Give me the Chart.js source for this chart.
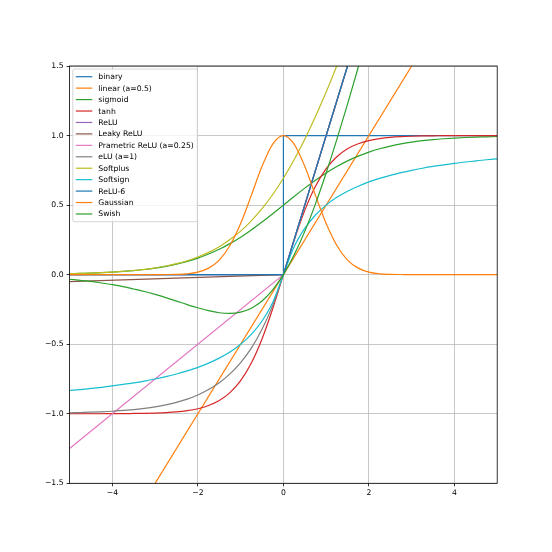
<!DOCTYPE html>
<html>
<head>
<meta charset="utf-8">
<script src="https://cdn.jsdelivr.net/npm/chart.js@4.4.0/dist/chart.umd.min.js"></script>
<style>
  html, body { margin: 0; padding: 0; background: #fff; }
  canvas { display: block; }
</style>
</head>
<body>
<canvas id="activations" width="552" height="552"></canvas>
<script>
// shared x grid for the smooth curves
const xs = [-5, -4.75, -4.5, -4.25, -4, -3.75, -3.5, -3.25, -3, -2.75, -2.5, -2.25, -2, -1.75, -1.5, -1.25, -1, -0.75, -0.5, -0.25,
	0, 0.25, 0.5, 0.75, 1, 1.25, 1.5, 1.75, 2, 2.25, 2.5, 2.75, 3, 3.25, 3.5, 3.75, 4, 4.25, 4.5, 4.75, 5];

const sigmoidY = [0.007, 0.009, 0.011, 0.014, 0.018, 0.023, 0.029, 0.037, 0.047, 0.060, 0.076, 0.095, 0.119, 0.148, 0.182, 0.223, 0.269, 0.321, 0.378, 0.438,
	0.5, 0.562, 0.622, 0.679, 0.731, 0.777, 0.818, 0.852, 0.881, 0.905, 0.924, 0.940, 0.953, 0.963, 0.971, 0.977, 0.982, 0.986, 0.989, 0.991, 0.993];
const tanhY = [-1.000, -1.000, -1.000, -1.000, -0.999, -0.999, -0.998, -0.997, -0.995, -0.992, -0.987, -0.978, -0.964, -0.941, -0.905, -0.848, -0.762, -0.635, -0.462, -0.245,
	0, 0.245, 0.462, 0.635, 0.762, 0.848, 0.905, 0.941, 0.964, 0.978, 0.987, 0.992, 0.995, 0.997, 0.998, 0.999, 0.999, 1.000, 1.000, 1.000, 1.000];
const eluY = [-0.993, -0.991, -0.989, -0.986, -0.982, -0.976, -0.970, -0.961, -0.950, -0.936, -0.918, -0.895, -0.865, -0.826, -0.777, -0.713, -0.632, -0.528, -0.393, -0.221,
	0, 0.25, 0.5, 0.75, 1, 1.25, 1.5, 1.75, 2, 2.25, 2.5, 2.75, 3, 3.25, 3.5, 3.75, 4, 4.25, 4.5, 4.75, 5];
const softplusY = [0.007, 0.009, 0.011, 0.014, 0.018, 0.023, 0.030, 0.038, 0.049, 0.062, 0.079, 0.100, 0.127, 0.160, 0.201, 0.252, 0.313, 0.387, 0.474, 0.576,
	0.693, 0.826, 0.974, 1.137, 1.313, 1.502, 1.701, 1.910, 2.127, 2.350, 2.579, 2.812, 3.049, 3.288, 3.530, 3.773, 4.018, 4.264, 4.511, 4.759, 5.007];
const softsignY = [-0.833, -0.826, -0.818, -0.810, -0.800, -0.789, -0.778, -0.765, -0.750, -0.733, -0.714, -0.692, -0.667, -0.636, -0.600, -0.556, -0.500, -0.429, -0.333, -0.200,
	0, 0.200, 0.333, 0.429, 0.500, 0.556, 0.600, 0.636, 0.667, 0.692, 0.714, 0.733, 0.750, 0.765, 0.778, 0.789, 0.800, 0.810, 0.818, 0.826, 0.833];
const gaussianY = [0, 0, 0, 0, 0, 0, 0, 0, 0, 0.001, 0.002, 0.006, 0.018, 0.047, 0.105, 0.210, 0.368, 0.570, 0.779, 0.939,
	1, 0.939, 0.779, 0.570, 0.368, 0.210, 0.105, 0.047, 0.018, 0.006, 0.002, 0.001, 0, 0, 0, 0, 0, 0, 0, 0, 0];
const swishY = [-0.033, -0.041, -0.049, -0.060, -0.072, -0.086, -0.103, -0.121, -0.142, -0.165, -0.190, -0.215, -0.238, -0.259, -0.274, -0.278, -0.269, -0.241, -0.189, -0.109,
	0, 0.141, 0.311, 0.509, 0.731, 0.972, 1.226, 1.491, 1.762, 2.035, 2.310, 2.585, 2.858, 3.129, 3.397, 3.664, 3.928, 4.190, 4.451, 4.709, 4.967];

// piecewise linear ones only need their corners
const binaryX = [-5, 0, 0, 5];
const binaryY = [0, 0, 1, 1];
const linearX = [-5, 5];
const linearY = [-2.5, 2.5];
const reluX = [-5, 0, 5];
const reluY = [0, 0, 5];
const leakyY = [-0.05, 0, 5];
const preluY = [-1.25, 0, 5];
const relu6Y = [0, 0, 5];

const seriesNames = ['binary', 'linear (a=0.5)', 'sigmoid', 'tanh', 'ReLU', 'Leaky ReLU', 'Prametric ReLU (a=0.25)',
	'eLU (a=1)', 'Softplus', 'Softsign', 'ReLU-6', 'Gaussian', 'Swish'];
const seriesColors = ['#1f77b4', '#ff7f0e', '#2ca02c', '#d62728', '#9467bd', '#8c564b', '#e377c2',
	'#7f7f7f', '#bcbd22', '#17becf', '#1f77b4', '#ff7f0e', '#2ca02c'];

const xTicks = [-4, -2, 0, 2, 4];
const xTickLabels = ['\u22124', '\u22122', '0', '2', '4'];
const yTicks = [-1.5, -1, -0.5, 0, 0.5, 1, 1.5];
const yTickLabels = ['\u22121.5', '\u22121.0', '\u22120.5', '0.0', '0.5', '1.0', '1.5'];

const FONT = 'DejaVu Sans';
const FS = 7.7;

function pairs(x, y) {
	return x.map((v, i) => ({ x: v, y: y[i] }));
}

const seriesPoints = [
	pairs(binaryX, binaryY),
	pairs(linearX, linearY),
	pairs(xs, sigmoidY),
	pairs(xs, tanhY),
	pairs(reluX, reluY),
	pairs(reluX, leakyY),
	pairs(reluX, preluY),
	pairs(xs, eluY),
	pairs(xs, softplusY),
	pairs(xs, softsignY),
	pairs(reluX, relu6Y),
	pairs(xs, gaussianY),
	pairs(xs, swishY)
];

const datasets = seriesPoints.map((pts, i) => ({
	label: seriesNames[i],
	data: pts,
	borderColor: seriesColors[i],
	backgroundColor: seriesColors[i],
	borderWidth: 1.2,
	pointRadius: 0,
	fill: false,
	clip: 0,
	// later series drawn on top, like matplotlib
	order: seriesPoints.length - i,
	cubicInterpolationMode: pts.length > 4 ? 'monotone' : 'default',
	tension: 0
}));

const framePlugin = {
	id: 'frame',
	afterDatasetsDraw(chart) {
		const { ctx, chartArea: a } = chart;
		ctx.save();
		ctx.strokeStyle = '#000';
		ctx.lineWidth = 0.8;
		ctx.strokeRect(a.left, a.top, a.right - a.left, a.bottom - a.top);
		ctx.restore();
	}
};

const boxLegend = {
	id: 'boxLegend',
	afterDraw(chart) {
		const { ctx, chartArea: a } = chart;
		const rowH = 11.44;
		const pad = 3;
		const handleLen = 16.5;
		const textGap = 6;
		ctx.save();
		ctx.font = FS + 'px "' + FONT + '"';
		const textW = Math.max(...seriesNames.map((n) => ctx.measureText(n).width));
		const left = a.left + 3.2;
		const top = a.top + 3;
		const w = pad + handleLen + textGap + textW + pad + 0.5;
		const h = FS * 2 + rowH * (seriesNames.length - 1);

		ctx.fillStyle = 'rgba(255,255,255,0.8)';
		ctx.strokeStyle = '#cccccc';
		ctx.lineWidth = 0.8;
		ctx.beginPath();
		ctx.roundRect(left, top, w, h, 1.5);
		ctx.fill();
		ctx.stroke();

		ctx.textBaseline = 'middle';
		ctx.textAlign = 'left';
		seriesNames.forEach((name, i) => {
			const cy = top + FS + i * rowH;
			ctx.strokeStyle = seriesColors[i];
			ctx.lineWidth = 1.2;
			ctx.beginPath();
			ctx.moveTo(left + pad, cy);
			ctx.lineTo(left + pad + handleLen, cy);
			ctx.stroke();
			ctx.fillStyle = '#000';
			ctx.fillText(name, left + pad + handleLen + textGap, cy + 0.5);
		});
		ctx.restore();
	}
};

Chart.defaults.font.family = FONT;
Chart.defaults.font.size = FS;
Chart.defaults.color = '#000';

new Chart(document.getElementById('activations'), {
	type: 'line',
	data: { datasets: datasets },
	options: {
		responsive: false,
		animation: false,
		events: [],
		layout: {
			padding: { top: 66, right: 54.8, left: 0, bottom: 0 }
		},
		plugins: {
			legend: { display: false },
			tooltip: { enabled: false }
		},
		scales: {
			x: {
				type: 'linear',
				min: -5,
				max: 5,
				afterBuildTicks: (axis) => {
					axis.ticks = xTicks.map((v) => ({ value: v }));
				},
				afterFit: (axis) => {
					axis.height = 68.7;
				},
				ticks: {
					autoSkip: false,
					maxRotation: 0,
					padding: 2,
					callback: (value, index) => xTickLabels[index]
				},
				grid: {
					color: '#b0b0b0',
					lineWidth: 0.7,
					tickColor: '#000',
					tickLength: 3,
					tickWidth: 0.8
				},
				border: { display: false }
			},
			y: {
				min: -1.5,
				max: 1.5,
				afterBuildTicks: (axis) => {
					axis.ticks = yTicks.map((v) => ({ value: v }));
				},
				afterFit: (axis) => {
					axis.width = 69.6;
				},
				ticks: {
					autoSkip: false,
					padding: 3,
					callback: (value, index) => yTickLabels[index]
				},
				grid: {
					color: '#b0b0b0',
					lineWidth: 0.7,
					tickColor: '#000',
					tickLength: 3,
					tickWidth: 0.8
				},
				border: { display: false }
			}
		}
	},
	plugins: [framePlugin, boxLegend]
});
</script>
</body>
</html>
